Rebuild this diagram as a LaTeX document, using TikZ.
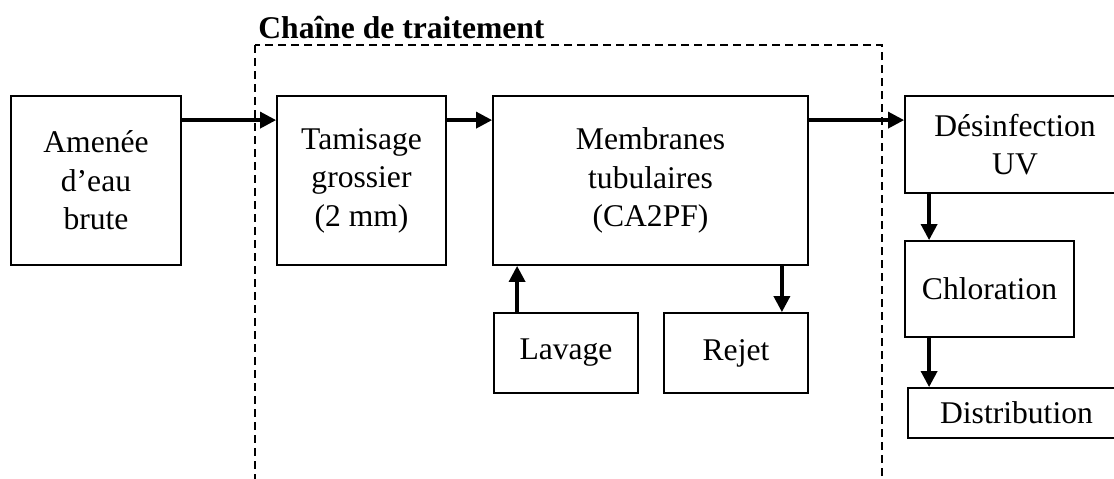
\documentclass[tikz,border=0pt]{standalone}
\usepackage{fontspec}
\setmainfont{Liberation Serif}
\usetikzlibrary{positioning,arrows.meta}
\tikzstyle{box}   = [draw, line width=0.9pt, inner sep=0pt, align=center, font=\fontsize{15.8}{19.2}\selectfont]
\tikzstyle{arrow} = [line width=1.7pt, -{Triangle[length=8pt,width=8pt]}]
\tikzstyle{frame} = [line width=1.3pt, dash pattern=on 4pt off 2.5pt]

\begin{document}
\begin{tikzpicture}[x=0.5pt,y=-0.5pt]
        \useasboundingbox (0,0) rectangle (1114,478);

        \draw[frame] (255,45) rectangle (882,480);
        \node[anchor=base west, inner sep=0pt, font=\fontsize{15.8}{18.8}\selectfont\bfseries] (titre) at (258,38) {Chaîne de traitement};

        \node[box, minimum width=85pt, minimum height=84.5pt] (amenee) at (96,180.5) {Amenée\\d’eau\\brute};
        \node[box, minimum width=84.5pt, minimum height=84.5pt] (tamisage) at (361.5,180.5) {Tamisage\\grossier\\(2 mm)};
        \node[box, minimum width=157.5pt, minimum height=84.5pt] (membranes) at (650.5,180.5) {Membranes\\tubulaires\\(CA2PF)};
        \node[box, minimum width=72pt, minimum height=40pt] (lavage) at (566,353) {Lavage};
        \node[box, minimum width=72pt, minimum height=40pt] (rejet) at (736,353) {Rejet};
        \node[box, minimum width=110pt, minimum height=48.5pt] (desinfection) at (1015,144.5) {Désinfection\\UV};
        \node[box, minimum width=84.5pt, minimum height=48pt] (chloration) at (989.5,289) {Chloration};
        \node[box, minimum width=108.5pt, minimum height=25pt] (distribution) at (1016.5,413) {Distribution};

        \draw[arrow] ([yshift=-12.5pt]amenee.north east) -- ([yshift=-12.5pt]tamisage.north west);
        \draw[arrow] ([yshift=-12.5pt]tamisage.north east) -- ([yshift=-12.5pt]membranes.north west);
        \draw[arrow] ([yshift=-12.5pt]membranes.north east) -- ([yshift=-12.5pt]desinfection.north west);
        \draw[arrow] ([xshift=12pt]lavage.north west) -- ([xshift=12pt]lavage.north west |- membranes.south);
        \draw[arrow] ([xshift=-13.5pt]membranes.south east) -- ([xshift=-13.5pt]membranes.south east |- rejet.north);
        \draw[arrow] ([xshift=12.5pt]desinfection.south west) -- ([xshift=12.5pt]chloration.north west);
        \draw[arrow] ([xshift=12.5pt]chloration.south west) -- ([xshift=12.5pt]chloration.south west |- distribution.north);
\end{tikzpicture}
\end{document}
